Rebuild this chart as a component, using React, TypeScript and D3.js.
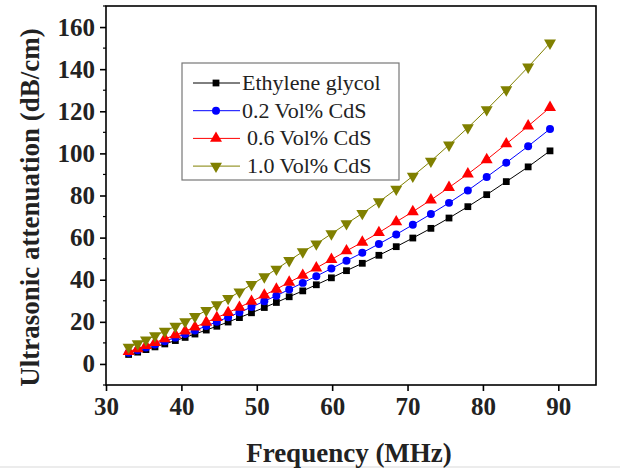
import React, { useEffect, useRef } from 'react';
import * as d3 from 'd3';

// frequency (MHz) of each measured point
const frequency = [33.0, 34.2, 35.3, 36.5, 37.8, 39.2, 40.5, 41.8, 43.3, 44.7, 46.2, 47.7, 49.3, 51.0, 52.6, 54.3, 56.1, 57.9, 59.9, 61.9, 64.0, 66.2, 68.5, 70.7, 73.1, 75.5, 78.0, 80.5, 83.1, 86.0, 88.9];

// attenuation (dB/cm)
const ethyleneGlycol = [4.5, 5.6, 6.8, 8.1, 9.5, 11.1, 12.6, 14.2, 16.1, 17.9, 19.9, 22.0, 24.3, 26.8, 29.2, 31.9, 34.7, 37.6, 40.9, 44.3, 47.8, 51.6, 55.7, 59.8, 64.4, 69.3, 74.7, 80.4, 86.6, 93.6, 101.2];
const cds02 = [5.3, 6.5, 7.8, 9.2, 10.8, 12.5, 14.2, 15.9, 18.0, 20.0, 22.2, 24.5, 27.0, 29.8, 32.4, 35.4, 38.5, 41.7, 45.3, 49.0, 52.8, 57.0, 61.5, 66.1, 71.2, 76.5, 82.4, 88.8, 95.6, 103.4, 111.6];
const cds06 = [5.9, 7.2, 8.7, 10.2, 11.9, 13.8, 15.6, 17.5, 19.8, 22.0, 24.4, 26.9, 29.7, 32.7, 35.5, 38.8, 42.1, 45.6, 49.6, 53.7, 57.8, 62.4, 67.5, 72.3, 77.9, 83.8, 90.2, 97.0, 104.5, 113.0, 121.8];
const cds10 = [8.0, 9.6, 11.4, 13.4, 15.5, 17.9, 20.1, 22.5, 25.4, 28.1, 31.1, 34.2, 37.7, 41.4, 45.0, 49.1, 53.3, 57.0, 61.8, 66.6, 71.5, 77.0, 83.0, 89.2, 96.3, 104.0, 112.2, 120.8, 130.2, 141.0, 152.4];

const seriesNames = ['Ethylene glycol', '0.2 Vol% CdS', '0.6 Vol% CdS', '1.0 Vol% CdS'];
const seriesValues = [ethyleneGlycol, cds02, cds06, cds10];

const xTicks = [30, 40, 50, 60, 70, 80, 90];
const yTicks = [0, 20, 40, 60, 80, 100, 120, 140, 160];
const yMinorTicks = [-10, 10, 30, 50, 70, 90, 110, 130, 150, 170];

const App = () => {
  const chartRef = useRef<SVGSVGElement>(null);

  useEffect(() => {
    const svg = d3.select(chartRef.current);
    svg.selectAll('*').remove();

    const left = 106, right = 596, top = 6, bottom = 385;
    const serif = '"Liberation Serif", "Times New Roman", serif';

    const x = d3.scaleLinear().domain([30, 95]).range([left, right]);
    const y = d3.scaleLinear().domain([-10, 170]).range([bottom, top]);

    const colors = ['#000000', '#0000ff', '#ff0000', '#808000'];
    const shapes = [d3.symbolSquare, d3.symbolCircle, d3.symbolTriangle, d3.symbolTriangle];
    const sizes = [46, 50, 62, 62];
    const rotations = [0, 0, 0, 180];

    svg.append('rect').attr('width', 620).attr('height', 475).attr('fill', '#fff');
    svg.append('line')
      .attr('x1', 0).attr('x2', 620).attr('y1', 467).attr('y2', 467)
      .attr('stroke', '#ececec').attr('stroke-width', 2);

    // series
    const line = d3.line<number>()
      .x((d, i) => x(frequency[i]))
      .y(d => y(d));

    seriesValues.forEach((vals, s) => {
      const g = svg.append('g');
      g.append('path')
        .datum(vals)
        .attr('d', line)
        .attr('fill', 'none')
        .attr('stroke', colors[s])
        .attr('stroke-width', 1);
      g.selectAll('path.pt')
        .data(vals)
        .enter()
        .append('path')
          .attr('class', 'pt')
          .attr('d', d3.symbol().type(shapes[s]).size(sizes[s]))
          .attr('transform', (d, i) => `translate(${x(frequency[i])},${y(d)}) rotate(${rotations[s]})`)
          .attr('fill', colors[s]);
    });

    // frame
    svg.append('rect')
      .attr('x', left).attr('y', top)
      .attr('width', right - left).attr('height', bottom - top)
      .attr('fill', 'none').attr('stroke', '#000').attr('stroke-width', 1.6);

    // x axis
    const xAxis = svg.append('g')
      .attr('transform', `translate(0,${bottom})`)
      .call(d3.axisBottom(x).tickValues(xTicks).tickSize(6).tickPadding(6).tickFormat(d3.format('d')));
    xAxis.select('.domain').remove();
    xAxis.selectAll('line').attr('stroke-width', 1.6);
    xAxis.selectAll('text')
      .attr('font-family', serif).attr('font-size', 25).attr('font-weight', 'bold').attr('fill', '#222');

    // y axis
    const yAxis = svg.append('g')
      .attr('transform', `translate(${left},0)`)
      .call(d3.axisLeft(y).tickValues(yTicks).tickSize(6).tickPadding(5).tickFormat(d3.format('d')));
    yAxis.select('.domain').remove();
    yAxis.selectAll('line').attr('stroke-width', 1.6);
    yAxis.selectAll('text')
      .attr('font-family', serif).attr('font-size', 25).attr('font-weight', 'bold').attr('fill', '#222');

    svg.append('g')
      .selectAll('line')
      .data(yMinorTicks)
      .enter()
      .append('line')
        .attr('x1', left - 3).attr('x2', left)
        .attr('y1', d => y(d)).attr('y2', d => y(d))
        .attr('stroke', '#000').attr('stroke-width', 1.2);

    // axis titles
    svg.append('text')
      .attr('x', (left + right) / 2 - 2)
      .attr('y', 462)
      .attr('text-anchor', 'middle')
      .attr('font-family', serif).attr('font-size', 27).attr('font-weight', 'bold').attr('fill', '#222')
      .text('Frequency (MHz)');

    svg.append('text')
      .attr('transform', `translate(39,${(top + bottom) / 2 + 12}) rotate(-90)`)
      .attr('text-anchor', 'middle')
      .attr('font-family', serif).attr('font-size', 27).attr('font-weight', 'bold').attr('fill', '#222')
      .text('Ultrasonic attenuation (dB/cm)');

    // legend
    const legend = svg.append('g');
    legend.append('rect')
      .attr('x', 182).attr('y', 63).attr('width', 217).attr('height', 117)
      .attr('fill', '#fff').attr('stroke', '#777').attr('stroke-width', 1.2);

    seriesNames.forEach((name, s) => {
      const ry = 83 + s * 27.7;
      legend.append('line')
        .attr('x1', 193).attr('x2', 240).attr('y1', ry).attr('y2', ry)
        .attr('stroke', colors[s]).attr('stroke-width', 1);
      legend.append('path')
        .attr('d', d3.symbol().type(shapes[s]).size(sizes[s]))
        .attr('transform', `translate(216,${ry}) rotate(${rotations[s]})`)
        .attr('fill', colors[s]);
      legend.append('text')
        .attr('x', s < 2 ? 242 : 247)
        .attr('y', ry + 7)
        .attr('font-family', serif).attr('font-size', 22).attr('fill', '#222')
        .text(name);
    });
  }, []);

  return (
    <div style={{ position: 'fixed', left: 0, top: 0 }}>
      <svg ref={chartRef} width={620} height={475} style={{ display: 'block' }} />
    </div>
  );
};

export default App;
